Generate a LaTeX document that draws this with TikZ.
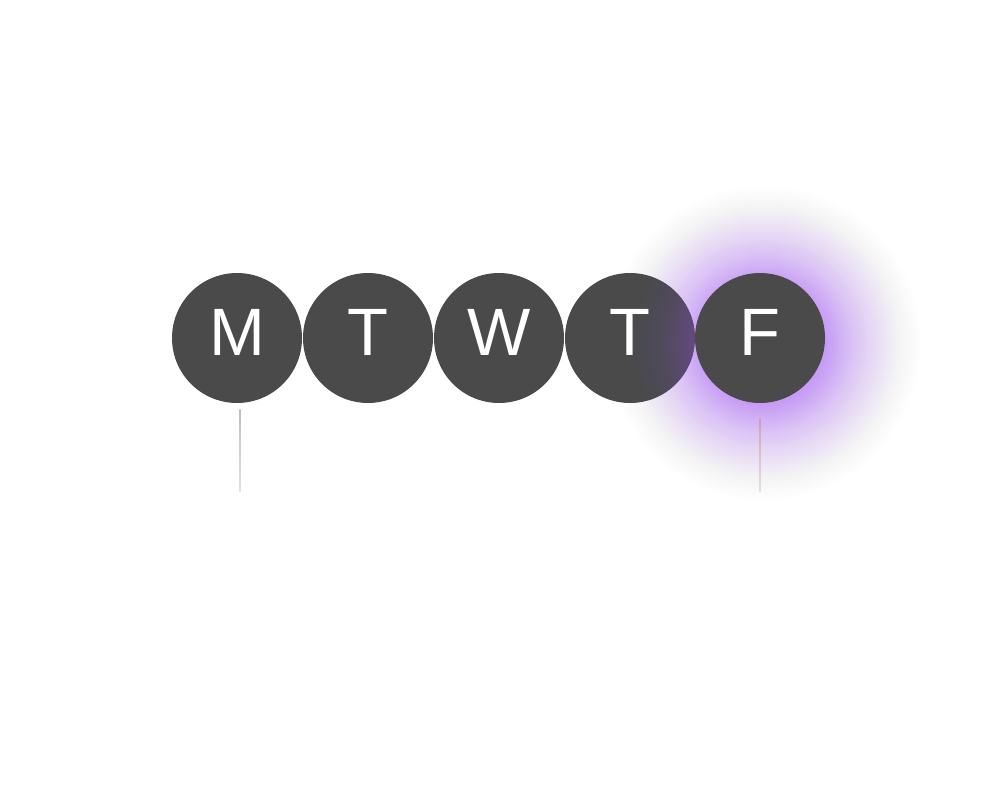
\documentclass[tikz,border=0pt]{standalone}
\usepackage{fontspec}
\setmainfont{Liberation Sans}
\definecolor{daybg}{HTML}{4A4A4A}
\definecolor{glowc}{HTML}{A450F5}
\definecolor{lineg}{RGB}{190,190,190}
\definecolor{linegl}{RGB}{225,225,225}
\definecolor{linep}{RGB}{205,160,175}
\tikzset{
  day/.style={circle, fill=daybg, minimum size=130pt, inner sep=0pt},
  letter/.style={text=white, font=\fontsize{67}{67}\selectfont, anchor=base, inner sep=0pt},
}
\begin{document}
\begin{tikzpicture}[x=1pt, y=-1pt]
\useasboundingbox (0,0) rectangle (1000,800);
\fill[white] (0,0) rectangle (1000,800);
% circles
\node[day] (c1) at (237,338) {};
\node[day] (c2) at (368,338) {};
\node[day] (c3) at (499,338) {};
\node[day] (c4) at (630,338) {};
% glow around Friday
\coordinate (gc) at (764,343);
\foreach \r in {175,173,...,63}{
  \pgfmathsetmacro{\op}{0.026*((177-\r)/112)^1.5}
  \fill[glowc, fill opacity=\op] (gc) circle (\r);
}
\node[day] (c5) at (760,338) {};
% letters
\node[letter] (l1) at (237,355) {M};
\node[letter] (l2) at (368,355) {T};
\node[letter] (l3) at (499,355) {W};
\node[letter] (l4) at (630,355) {T};
\node[letter] (l5) at (760,355) {F};
% ticks
\coordinate (m1) at (240,409);
\coordinate (m2) at (240,491);
\coordinate (f1) at (760,418);
\coordinate (f2) at (760,491);
\shade[top color=lineg, bottom color=linegl] ([xshift=-0.7pt]m1) rectangle ([xshift=0.7pt]m2);
\shade[top color=linep, bottom color=linegl] ([xshift=-0.7pt]f1) rectangle ([xshift=0.7pt]f2);
\end{tikzpicture}
\end{document}
